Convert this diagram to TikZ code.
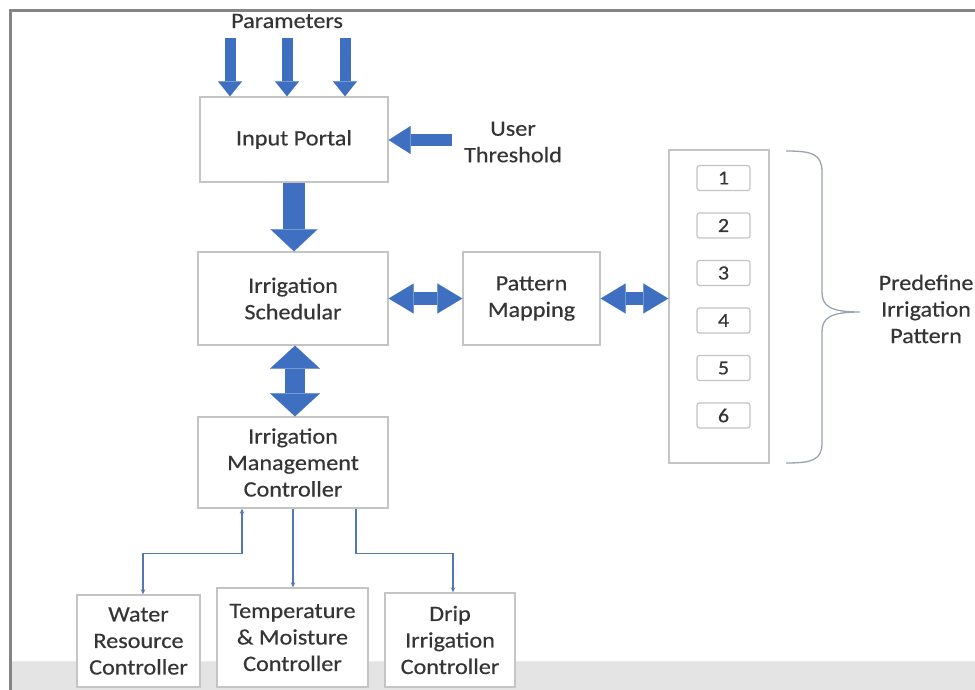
\documentclass[tikz,border=0pt]{standalone}
\usepackage{fontspec}
\setmainfont{Carlito}[FakeStretch=1.1,FakeBold=0.4]
\usetikzlibrary{arrows.meta,positioning,calc}
\definecolor{blockblue}{HTML}{3E6FC1}
\definecolor{boxline}{HTML}{C4C4C4}
\definecolor{txt}{HTML}{353535}
\definecolor{linkblue}{HTML}{5278AE}
\definecolor{framegray}{HTML}{858585}
\definecolor{bandgray}{HTML}{E4E4E4}
\definecolor{bracegray}{HTML}{9BA3B3}
\tikzset{
  blockbox/.style={draw=boxline, line width=1.4pt, fill=white, text=txt,
    align=center, inner sep=2pt, font=\fontsize{22}{26.5}\selectfont},
  numbox/.style={draw=boxline, line width=1.2pt, fill=white, text=txt,
    rounded corners=2.5pt, minimum width=53pt, minimum height=25pt,
    inner sep=0pt, font=\fontsize{20}{20}\selectfont},
  plainlabel/.style={text=txt, align=center, font=\fontsize{22}{26.5}\selectfont},
  paramarrow/.style={draw=blockblue, line width=11pt,
    -{Triangle[width=24pt,length=15pt,line width=0.01pt]}},
  fatdown/.style={draw=blockblue, line width=22pt,
    -{Triangle[width=47pt,length=22pt,line width=0.01pt]}},
  thresharrow/.style={draw=blockblue, line width=12pt,
    -{Triangle[width=28pt,length=22pt,line width=0.01pt]}},
  twowayh/.style={draw=blockblue, line width=13pt,
    {Triangle[width=30pt,length=25pt,line width=0.01pt]}-{Triangle[width=30pt,length=25pt,line width=0.01pt]}},
  twowayv/.style={draw=blockblue, line width=20pt,
    {Triangle[width=50pt,length=23pt,line width=0.01pt]}-{Triangle[width=50pt,length=23pt,line width=0.01pt]}},
  link/.style={draw=linkblue, line width=1.3pt},
  linktip/.style={-{Stealth[length=5pt,width=4.5pt]}},
}
\begin{document}
\begin{tikzpicture}[x=1pt,y=-1pt]
\useasboundingbox (0,0) rectangle (975,690);
\fill[white] (0,0) rectangle (975,690);

% window frame and lower band
\fill[bandgray] (11.5,662) rectangle (975,690);
\draw[white!92!black, line width=1pt] (11.5,661.5) -- (975,661.5);
\draw[framegray, line width=3pt] (10,690) -- (10,11) -- (975,11);

% main blocks
\node[blockbox, minimum width=188pt, minimum height=85pt] (ip) at (294,139.5) {Input Portal};
\node[blockbox, minimum width=190pt, minimum height=93pt] (is) at (293,298.5) {Irrigation\\Schedular};
\node[blockbox, minimum width=137pt, minimum height=93pt] (pm) at (531.5,298.5) {Pattern\\Mapping};
\node[blockbox, minimum width=190pt, minimum height=91pt] (imc) at (293,462.5) {Irrigation\\Management\\Controller};
\node[blockbox, minimum width=123pt, minimum height=92pt] (wr) at (138.5,641) {Water\\Resource\\Controller};
\node[blockbox, minimum width=151pt, minimum height=99pt] (tm) at (292.5,637.5) {Temperature\\\&~Moisture\\Controller};
\node[blockbox, minimum width=130pt, minimum height=94pt] (dr) at (450,640) {Drip\\Irrigation\\Controller};

% pattern list
\node[blockbox, minimum width=100pt, minimum height=313pt] (list) at (719,306.5) {};
\node[numbox] (n1) at (723.5,178) {1};
\node[numbox] (n2) at (723.5,225.5) {2};
\node[numbox] (n3) at (723.5,273) {3};
\node[numbox] (n4) at (723.5,320.5) {4};
\node[numbox] (n5) at (723.5,368) {5};
\node[numbox] (n6) at (723.5,415.5) {6};

% labels
\node[plainlabel] (par) at (287,21) {Parameters};
\node[plainlabel] (usr) at (513,142) {User\\Threshold};
\node[plainlabel] (pdf) at (926,309) {Predefine\\Irrigation\\Pattern};

% parameter inputs
\coordinate (pa) at (230,38);
\coordinate (pb) at (287,38);
\coordinate (pc) at (345,38);
\draw[paramarrow] (pa) -- (pa |- ip.north);
\draw[paramarrow] (pb) -- (pb |- ip.north);
\draw[paramarrow] (pc) -- (pc |- ip.north);

% threshold input
\coordinate (th) at (452,140);
\draw[thresharrow] (th) -- (th -| ip.east);

% block arrows between stages
\draw[fatdown] (ip.south) -- (ip.south |- is.north);
\draw[twowayh] (is.east) -- (pm.west);
\draw[twowayh] (pm.east) -- (pm.east -| list.west);
\draw[twowayv] ([xshift=2pt]is.south) -- ([xshift=2pt]imc.north);

% brace grouping the patterns
\draw[bracegray, line width=1.3pt]
  (786,151) .. controls (812,151) and (822,154) .. (822,172) -- (822,292)
  .. controls (822,306) and (830,312) .. (860,312)
  .. controls (830,312) and (822,318) .. (822,332) -- (822,443)
  .. controls (822,460) and (812,463) .. (786,463);

% controller links
\draw[link, {Stealth[length=5pt,width=4.5pt]}-{Stealth[length=5pt,width=4.5pt]}]
  ([xshift=-51pt]imc.south) -- ++(0,45) -| ([xshift=4.5pt]wr.north);
\draw[link, linktip] (imc.south) -- (imc.south |- tm.north);
\draw[link, linktip] ([xshift=63pt]imc.south) -- ++(0,45) -| ([xshift=3pt]dr.north);
\end{tikzpicture}
\end{document}
